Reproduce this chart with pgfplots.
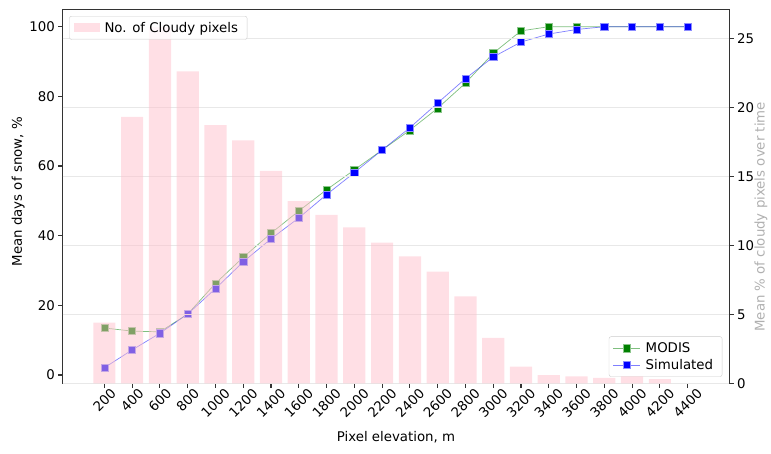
\documentclass[border=0pt]{standalone}
\usepackage{fontspec}
\setmainfont{DejaVu Sans}
\usepackage{graphicx}
\usepackage{pgfplots}
\usepackage{pgfplotstable}
\pgfplotsset{compat=1.18}

\definecolor{modis}{RGB}{0,128,0}
\definecolor{simul}{RGB}{0,0,255}
\definecolor{cloudpink}{RGB}{255,192,203}
\definecolor{spine}{gray}{0.2}
\definecolor{rlabel}{RGB}{176,176,176}

\newcommand\fs{\fontsize{13.33}{16}\selectfont}
\newcommand\rl[1]{\rotatebox{45}{#1}}

% mean days of snow per elevation band
\pgfplotstableread{
elev modis sim
200  13.5  2.1
400  12.6  7.2
600  12.4  12.0
800  17.5  17.5
1000 26.3  24.8
1200 33.8  32.5
1400 40.7  39.1
1600 47.1  45.1
1800 53.2  51.8
2000 58.9  58.1
2200 64.6  64.6
2400 70.3  71.0
2600 76.6  78.1
2800 83.8  85.1
3000 92.4  91.3
3200 98.8  95.6
3400 100   97.9
3600 100   99.2
3800 100   100
4000 100   100
4200 100   100
4400 100   100
}\snowtab

% mean share of cloudy pixels per elevation band
\pgfplotstableread{
elev cloudy
200  4.4
400  19.3
600  25.8
800  22.6
1000 18.7
1200 17.6
1400 15.4
1600 13.2
1800 12.2
2000 11.3
2200 10.2
2400 9.2
2600 8.1
2800 6.3
3000 3.3
3200 1.2
3400 0.6
3600 0.5
3800 0.4
4000 0.5
4200 0.3
}\cloudtab

\pgfplotsset{
  common/.style={
    at={(0pt,0pt)}, anchor=south west,
    scale only axis, width=666.6pt, height=374pt,
    xmin=-100, xmax=4700,
    tick align=outside, major tick length=4.67pt,
    tick style={spine, line width=1.07pt},
    axis line style={spine, line width=1.07pt},
    every tick label/.append style={font=\fs, black},
    /pgf/number format/assume math mode=true,
    label style={font=\fs},
    legend style={font=\fs, draw=black!20, rounded corners=2pt,
      fill=white, fill opacity=0.8, text opacity=1, draw opacity=1,
      inner xsep=4pt, inner ysep=3.2pt, row sep=0pt,
      nodes={inner xsep=5pt, inner ysep=2.6pt}},
    legend cell align=left,
  },
  linelegend/.style={legend image code/.code={
    \draw[sharp corners, mark repeat=2, mark phase=2]
      plot coordinates {(0pt,0pt) (13.5pt,0pt) (27pt,0pt)};}},
}

\begin{document}
\begin{tikzpicture}[font=\fs]
\useasboundingbox (-62.7pt,-70.7pt) rectangle (708.3pt,383.3pt);

% snow curves on the left axis
\begin{axis}[common,
  ymin=-2.38, ymax=105,
  xtick={200,400,...,4400},
  xticklabels={\rl{200},\rl{400},\rl{600},\rl{800},\rl{1000},\rl{1200},
    \rl{1400},\rl{1600},\rl{1800},\rl{2000},\rl{2200},\rl{2400},\rl{2600},
    \rl{2800},\rl{3000},\rl{3200},\rl{3400},\rl{3600},\rl{3800},\rl{4000},
    \rl{4200},\rl{4400}},
  x tick label style={anchor=north, inner sep=0pt, yshift=1pt},
  ytick={0,20,...,100},
  y tick label style={anchor=east, inner sep=0pt, xshift=-3pt},
  xtick pos=left, ytick pos=left,
  xlabel={Pixel elevation, m},
  xlabel style={at={(axis description cs:0.5,-0.1436)}, anchor=center},
  ylabel={Mean days of snow, \%},
  ylabel style={at={(axis description cs:-0.0666,0.512)}, anchor=center},
  legend style={at={(0.9895,0.0176)}, anchor=south east},
]
\addplot[modis, draw opacity=0.5, line width=0.7pt, linelegend,
  mark=square*, mark size=3.6pt,
  mark options={solid, fill=modis, draw=modis!45!white, draw opacity=1,
    fill opacity=1, line width=0.5pt}]
  table[x=elev, y=modis] {\snowtab};
\addlegendentry{MODIS}
\addplot[simul, draw opacity=0.5, line width=0.7pt, linelegend,
  mark=square*, mark size=3.6pt,
  mark options={solid, fill=simul, draw=simul!45!white, draw opacity=1,
    fill opacity=1, line width=0.5pt}]
  table[x=elev, y=sim] {\snowtab};
\addlegendentry{Simulated}
\end{axis}

% cloudy pixel bars on the right axis
\begin{axis}[common,
  ymin=0, ymax=27.1,
  axis x line=none, axis y line*=right,
  ytick={0,5,...,25}, ytick pos=right,
  y tick label style={anchor=west, inner sep=0pt, xshift=3pt},
  ymajorgrids, grid style={black!9, line width=0.8pt},
  ylabel={Mean \% of cloudy pixels over time},
  ylabel style={at={(axis description cs:1.0475,0.445)}, anchor=center,
    rlabel},
  legend style={at={(0.0099,0.982)}, anchor=north west},
]
\addplot[ybar, bar width=160, fill=cloudpink, fill opacity=0.5, draw=none,
  legend image code/.code={\fill[cloudpink, fill opacity=0.5, sharp corners]
    (0pt,-4.6pt) rectangle (26pt,4.6pt);}]
  table[x=elev, y=cloudy] {\cloudtab};
\addlegendentry{No. of Cloudy pixels}
\end{axis}
\end{tikzpicture}
\end{document}
